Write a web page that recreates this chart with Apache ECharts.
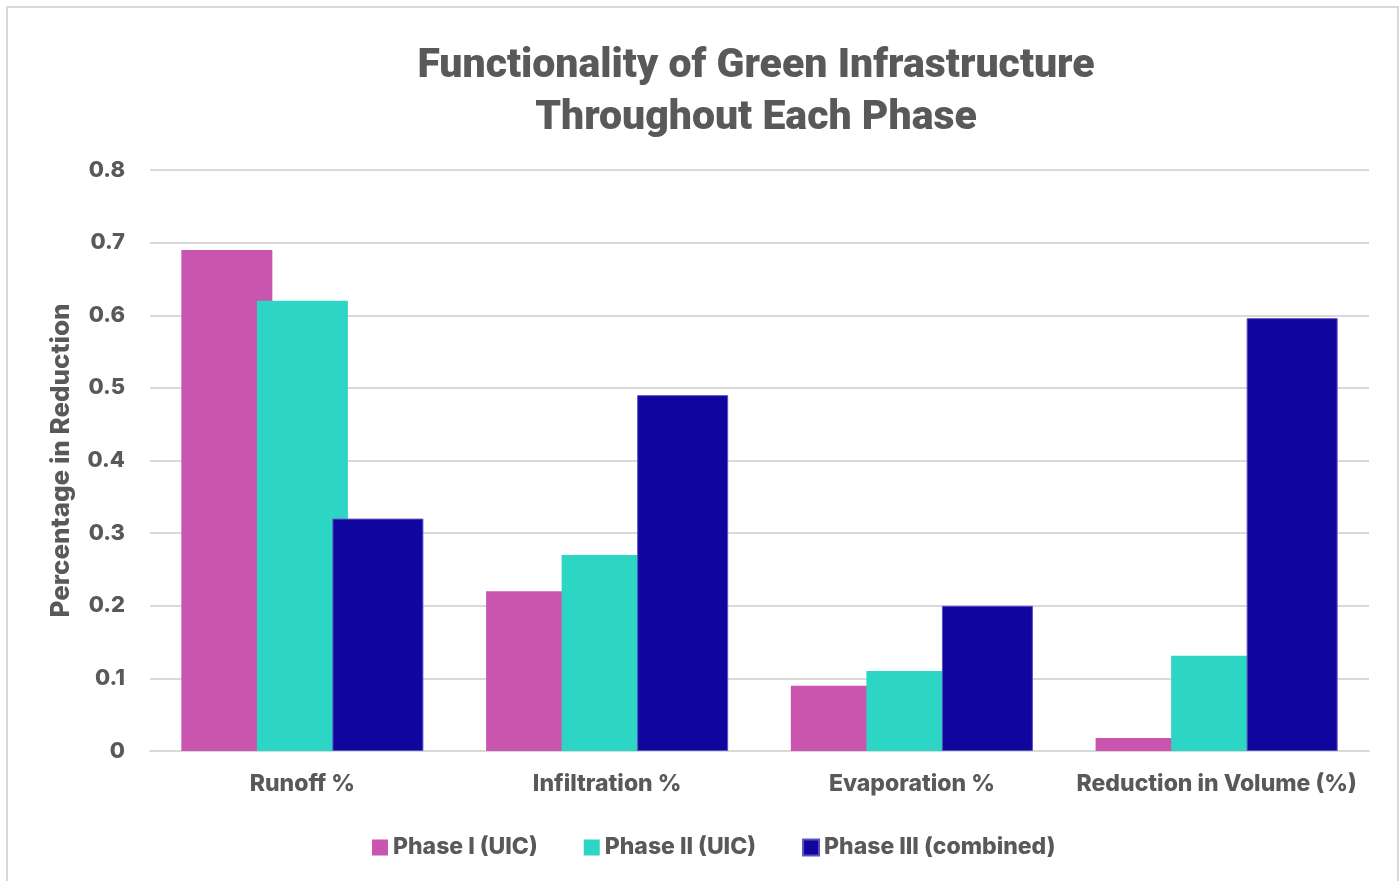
<!DOCTYPE html>
<html>
<head>
<meta charset="utf-8">
<script src="https://cdn.jsdelivr.net/npm/echarts@6/dist/echarts.min.js"></script>
<style>
html,body{margin:0;padding:0;background:#fff;}
#chart{width:1400px;height:881px;}
</style>
</head>
<body>
<div id="chart"></div>
<script>
var categories = ['Runoff %', 'Infiltration %', 'Evaporation %', 'Reduction in Volume (%)'];
var phase1 = [0.69, 0.22, 0.09, 0.018];
var phase2 = [0.62, 0.27, 0.11, 0.131];
var phase3 = [0.32, 0.49, 0.20, 0.596];
var seriesNames = ['Phase I (UIC)', 'Phase II (UIC)', 'Phase III (combined)'];
var yTicks = [0, 0.1, 0.2, 0.3, 0.4, 0.5, 0.6, 0.7, 0.8];

var gray = '#595959';
var titleFont = 'Roboto, "Liberation Sans", sans-serif';
var font = 'Inter, "Liberation Sans", sans-serif';

var myChart = echarts.init(document.getElementById('chart'));
var option = {
    backgroundColor: '#fff',
    color: ['#C955AE', '#2DD5C4', '#10069F'],
    title: {
        text: 'Functionality of Green Infrastructure\nThroughout Each Phase',
        left: 751,
        textAlign: 'center',
        top: 36,
        textStyle: {
            fontFamily: titleFont,
            fontWeight: 900,
            fontSize: 41,
            lineHeight: 52,
            color: gray
        }
    },
    graphic: [{
        type: 'rect',
        shape: {x: 7, y: 7, width: 1391, height: 900},
        style: {fill: 'none', stroke: '#d9d9d9', lineWidth: 2},
        silent: true
    }],
    legend: {
        data: seriesNames,
        left: 367,
        top: 831,
        itemWidth: 16,
        itemHeight: 16,
        itemGap: 46,
        icon: 'rect',
        textStyle: {fontFamily: font, fontWeight: 800, fontSize: 23, color: gray}
    },
    grid: {left: 150, right: 31, top: 170, bottom: 130},
    xAxis: {
        type: 'category',
        data: categories,
        axisTick: {show: false},
        axisLine: {lineStyle: {color: '#d9d9d9', width: 2}},
        axisLabel: {
            interval: 0,
            margin: 22,
            fontFamily: font,
            fontWeight: 800,
            fontSize: 23,
            color: gray
        }
    },
    yAxis: {
        type: 'value',
        min: yTicks[0],
        max: yTicks[yTicks.length - 1],
        interval: 0.1,
        name: 'Percentage in Reduction',
        nameLocation: 'middle',
        nameGap: 76,
        nameTextStyle: {fontFamily: font, fontWeight: 800, fontSize: 26, color: gray},
        axisLine: {show: false},
        axisTick: {show: false},
        splitLine: {lineStyle: {color: '#d9d9d9', width: 2}},
        axisLabel: {
            margin: 25,
            fontFamily: font,
            fontWeight: 800,
            fontSize: 22,
            color: gray,
            formatter: function (v) { return v === 0 ? '0' : v.toFixed(1); }
        }
    },
    series: [
        {name: seriesNames[0], type: 'bar', data: phase1, barWidth: 91, barGap: '-17%'},
        {name: seriesNames[1], type: 'bar', data: phase2, barWidth: 91, barGap: '-17%'},
        {name: seriesNames[2], type: 'bar', data: phase3, barWidth: 91, barGap: '-17%',
            itemStyle: {borderColor: '#5a52c0', borderWidth: 1}}
    ]
};
myChart.setOption(option);
</script>
</body>
</html>
